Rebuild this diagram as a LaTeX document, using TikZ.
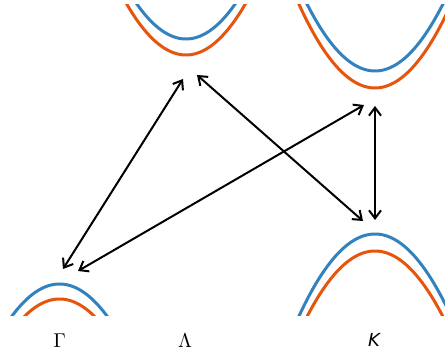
\documentclass[tikz,border=0pt]{standalone}
\usepackage{fontspec}
\newfontfamily\dvs{DejaVu Sans}
\usetikzlibrary{arrows.meta}
\definecolor{bandblue}{HTML}{3182BD}
\definecolor{bandorange}{HTML}{E6550D}
\tikzset{
  bandb/.style={bandblue, line width=3pt},
  bando/.style={bandorange, line width=3pt},
  trans/.style={black, line width=2pt, {Straight Barb[length=8pt,width=12pt]}-{Straight Barb[length=8pt,width=12pt]}},
  lab/.style={inner sep=0pt, scale=2}
}
\begin{document}
\begin{tikzpicture}[x=1pt,y=-1pt]
\useasboundingbox (0,0) rectangle (445,352);
\begin{scope}
\clip (0,5) rectangle (445,316);
% Gamma valley (downward)
\draw[bandb] plot[domain=-60:60,samples=60] ({59.5+\x},{284+0.0142*\x*\x});
\draw[bando] plot[domain=-50:50,samples=60] ({59.5+\x},{299+0.0142*\x*\x});
% Lambda (upward)
\draw[bandb] plot[domain=-55:55,samples=60] ({186+\x},{39-0.0145*\x*\x});
\draw[bando] plot[domain=-65:65,samples=60] ({186+\x},{55-0.0145*\x*\x});
% K top (upward)
\draw[bandb] plot[domain=-75:75,samples=60] ({375+\x},{71-0.0145*\x*\x});
\draw[bando] plot[domain=-82:82,samples=60] ({375+\x},{88-0.0145*\x*\x});
% K bottom (downward)
\draw[bandb] plot[domain=-85:85,samples=60] ({375+\x},{234+0.0142*\x*\x});
\draw[bando] plot[domain=-80:80,samples=60] ({375+\x},{251+0.0142*\x*\x});
\end{scope}
% arrow end points
\coordinate (g1) at (63,269);
\coordinate (l1) at (183,79);
\coordinate (g2) at (78,271);
\coordinate (kt1) at (364,105);
\coordinate (l2) at (197,75);
\coordinate (kb1) at (363,221);
\coordinate (kt2) at (375,106);
\coordinate (kb2) at (375,220);
\draw[trans] (g1) -- (l1);
\draw[trans] (g2) -- (kt1);
\draw[trans] (l2) -- (kb1);
\draw[trans] (kt2) -- (kb2);
% labels
\node[lab] (LG) at (59.5,340.5) {$\Gamma$};
\node[lab] (LL) at (185,340.5) {$\Lambda$};
\node[inner sep=0pt, font=\fontsize{18}{18}\selectfont\dvs\itshape] (LK) at (374,340) {K};
\end{tikzpicture}
\end{document}
